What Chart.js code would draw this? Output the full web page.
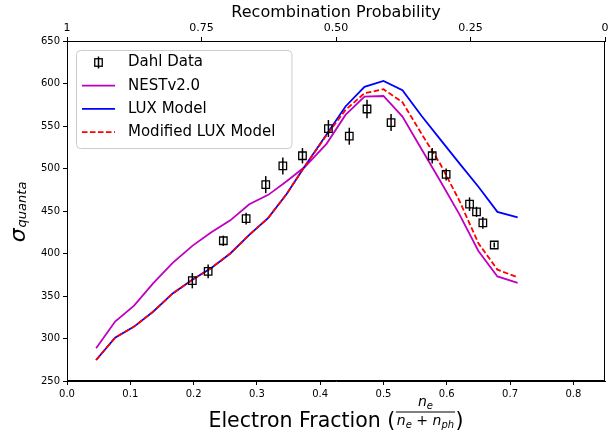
<!DOCTYPE html>
<html>
<head>
<meta charset="utf-8">
<script src="https://cdn.jsdelivr.net/npm/chart.js@4.4.1/dist/chart.umd.min.js"></script>
<style>
  html, body { margin: 0; padding: 0; background: #fff; }
  #wrap { width: 608px; height: 441px; position: relative; }
</style>
</head>
<body>
<div id="wrap"><canvas id="sigma-chart"></canvas></div>
<script>
// Dahl measurements (electron fraction, sigma, error)
const dahlFraction = [0.198, 0.223, 0.247, 0.283, 0.314, 0.341, 0.372, 0.413, 0.446, 0.474, 0.512, 0.577, 0.599, 0.636, 0.647, 0.657, 0.675];
const dahlSigma = [368, 379, 415, 441, 481, 503, 515, 547, 538, 570, 554, 515, 493, 458, 449, 436, 410];
const dahlErr = [9, 8, 6, 7, 10, 10, 9, 10, 10, 11, 10, 9, 7, 8, 6, 7, 3];

// model curves, all on the same electron fraction grid
const modelFraction = [0.046, 0.076, 0.106, 0.136, 0.167, 0.198, 0.228, 0.258, 0.288, 0.318, 0.347, 0.376, 0.41, 0.44, 0.47, 0.50, 0.53, 0.56, 0.59, 0.62, 0.65, 0.68, 0.712];
const nestSigma = [288.5, 320, 338.6, 364.9, 389, 409, 425, 439, 458, 469, 485, 502, 529, 563, 584.5, 585.3, 561, 523, 485, 446, 403, 373, 365.5];
const luxSigma = [274.7, 301, 314, 331.5, 353, 369, 383, 400, 422, 442, 470, 503, 540, 573, 596, 603, 592, 562, 534, 506, 478.5, 449, 442.5];
const modLuxSigma = [274.7, 301, 314, 331.5, 353, 369, 383, 400, 422, 442, 470, 503, 539, 569, 588.5, 593.3, 578, 541, 505, 462, 412, 381, 372];

// top axis
const recombTicks = [1, 0.75, 0.5, 0.25, 0];
const recombLabels = ['1', '0.75', '0.50', '0.25', '0'];

const FONT = "'DejaVu Sans', sans-serif";
Chart.defaults.font.family = FONT;
Chart.defaults.color = '#000';

const toPoints = (xs, ys) => xs.map((v, i) => ({ x: v, y: ys[i] }));

const errorBars = {
    id: 'errorBars',
    beforeDatasetDraw(chart, args) {
        if (args.index !== 0) return;
        const { ctx, scales: { x, y } } = chart;
        ctx.save();
        ctx.strokeStyle = '#000';
        ctx.lineWidth = 1.5;
        dahlFraction.forEach((f, i) => {
            const px = x.getPixelForValue(f);
            ctx.beginPath();
            ctx.moveTo(px, y.getPixelForValue(dahlSigma[i] - dahlErr[i]));
            ctx.lineTo(px, y.getPixelForValue(dahlSigma[i] + dahlErr[i]));
            ctx.stroke();
        });
        ctx.restore();
    }
};

// frame, axis titles with math text, and the boxed legend
const decorations = {
    id: 'decorations',
    afterDraw(chart) {
        const { ctx, chartArea: a } = chart;
        ctx.save();
        ctx.strokeStyle = '#000';
        ctx.lineWidth = 1;
        ctx.strokeRect(a.left + 0.5, a.top + 0.5, a.right - a.left - 1, a.bottom - a.top - 1);

        // x title: Electron Fraction (n_e / (n_e + n_ph))
        ctx.fillStyle = '#000';
        ctx.textBaseline = 'alphabetic';
        ctx.textAlign = 'left';
        const big = `20.5px ${FONT}`, mi = `italic 14px ${FONT}`, mr = `14px ${FONT}`, sub = `italic 10px ${FONT}`;
        const w = (t, f) => { ctx.font = f; return ctx.measureText(t).width; };
        const head = 'Electron Fraction (';
        const headW = w(head, big);
        const nW = w('n', mi);
        const numW = nW + w('e', sub);
        const denParts = [['n', mi, 0], ['e', sub, 2.5], [' + ', mr, 0], ['n', mi, 0], ['ph', sub, 2.5]];
        const denSizes = denParts.map(p => w(p[0], p[1]));
        const denW = denSizes.reduce((s, v) => s + v, 0);
        const fracW = Math.max(numW, denW) + 3;
        const total = headW + fracW + w(')', big);
        let cx = (a.left + a.right) / 2 - total / 2;
        const base = a.bottom + 46;
        ctx.font = big; ctx.fillText(head, cx, base);
        cx += headW;
        const bar = base - 15;
        ctx.fillRect(cx + 0.5, bar - 0.5, fracW - 1, 1);
        const nx = cx + (fracW - numW) / 2;
        ctx.font = mi; ctx.fillText('n', nx, bar - 6);
        ctx.font = sub; ctx.fillText('e', nx + nW, bar - 3.5);
        let dx = cx + (fracW - denW) / 2;
        denParts.forEach(([t, f, off], i) => { ctx.font = f; ctx.fillText(t, dx, bar + 13 + off); dx += denSizes[i]; });
        ctx.font = big; ctx.fillText(')', cx + fracW, base);

        // y title: sigma_quanta
        const sig = `italic 22px ${FONT}`, q = `italic 13px ${FONT}`;
        const sigW = w('σ', sig);
        const yw = sigW + 1 + w('quanta', q);
        ctx.translate(25, (a.top + a.bottom) / 2 + 1 + yw / 2);
        ctx.rotate(-Math.PI / 2);
        ctx.font = sig; ctx.fillText('σ', 0, 0);
        ctx.font = q; ctx.fillText('quanta', sigW + 1, 1);
        ctx.setTransform(1, 0, 0, 1, 0, 0);
        const dpr = chart.currentDevicePixelRatio || 1;
        ctx.scale(dpr, dpr);

        // legend
        const labels = ['Dahl Data', 'NESTv2.0', 'LUX Model', 'Modified LUX Model'];
        const lf = `15px ${FONT}`;
        const lx = a.left + 9, ly = a.top + 9;
        const tx = lx + 52;
        const lw = Math.max(...labels.map(t => w(t, lf))) + (tx - lx) + 16;
        const lh = 98;
        ctx.beginPath();
        ctx.roundRect(lx + 0.5, ly + 0.5, lw, lh, 4);
        ctx.fillStyle = 'rgba(255,255,255,0.8)';
        ctx.fill();
        ctx.strokeStyle = '#cccccc';
        ctx.stroke();
        const rowY = i => ly + 12.5 + i * 23.2;
        ctx.font = lf;
        ctx.textBaseline = 'middle';
        ctx.fillStyle = '#000';
        labels.forEach((t, i) => ctx.fillText(t, tx, rowY(i)));
        // Dahl sample
        const mx = lx + 22.5, my = rowY(0);
        ctx.strokeStyle = '#000';
        ctx.lineWidth = 1.5;
        ctx.beginPath(); ctx.moveTo(mx, my - 6); ctx.lineTo(mx, my + 6); ctx.stroke();
        ctx.lineWidth = 1.3;
        ctx.strokeRect(mx - 3.75, my - 3.75, 7.5, 7.5);
        // line samples
        const ds = chart.data.datasets;
        [1, 2, 3].forEach(k => {
            ctx.strokeStyle = ds[k].borderColor;
            ctx.lineWidth = ds[k].borderWidth;
            ctx.setLineDash(ds[k].borderDash || []);
            ctx.beginPath();
            ctx.moveTo(lx + 6, rowY(k));
            ctx.lineTo(lx + 39, rowY(k));
            ctx.stroke();
        });
        ctx.restore();
    }
};

new Chart(document.getElementById('sigma-chart'), {
    type: 'scatter',
    data: {
        datasets: [
            {
                label: 'Dahl Data',
                data: toPoints(dahlFraction, dahlSigma),
                pointStyle: 'rect',
                pointRadius: 5.3,
                pointBorderWidth: 1.3,
                borderColor: '#000',
                backgroundColor: 'rgba(0,0,0,0)',
                showLine: false,
                order: 0
            },
            {
                label: 'NESTv2.0',
                data: toPoints(modelFraction, nestSigma),
                showLine: true,
                borderColor: '#bf00bf',
                borderWidth: 1.8,
                pointRadius: 0,
                order: 3
            },
            {
                label: 'LUX Model',
                data: toPoints(modelFraction, luxSigma),
                showLine: true,
                borderColor: '#0000ff',
                borderWidth: 1.8,
                pointRadius: 0,
                order: 2
            },
            {
                label: 'Modified LUX Model',
                data: toPoints(modelFraction, modLuxSigma),
                showLine: true,
                borderColor: '#ff0000',
                borderWidth: 1.8,
                borderDash: [5.5, 2.5],
                pointRadius: 0,
                order: 1
            }
        ]
    },
    options: {
        responsive: true,
        maintainAspectRatio: false,
        animation: false,
        layout: { autoPadding: false, padding: { left: 0, right: 3, top: 0, bottom: 0 } },
        plugins: {
            legend: { display: false },
            tooltip: { enabled: false }
        },
        scales: {
            x: {
                type: 'linear',
                position: 'bottom',
                min: 0,
                max: 0.85,
                ticks: {
                    stepSize: 0.1,
                    includeBounds: false,
                    autoSkip: false,
                    maxRotation: 0,
                    padding: 3,
                    font: { size: 10 },
                    callback: v => v.toFixed(1)
                },
                grid: { drawOnChartArea: false, tickLength: 4, color: '#000' },
                border: { color: '#000' },
                afterFit: s => { s.height = 60; s.paddingLeft = 0; s.paddingRight = 0; }
            },
            x2: {
                type: 'linear',
                position: 'top',
                min: 0,
                max: 1,
                reverse: true,
                afterBuildTicks: s => { s.ticks = recombTicks.map(v => ({ value: v })); },
                ticks: {
                    autoSkip: false,
                    maxRotation: 0,
                    padding: 2,
                    font: { size: 11 },
                    callback: (v, i) => recombLabels[i]
                },
                title: {
                    display: true,
                    text: 'Recombination Probability',
                    font: { size: 16 },
                    padding: { top: 3, bottom: 0 }
                },
                grid: { drawOnChartArea: false, tickLength: 4, color: '#000' },
                border: { color: '#000' },
                afterFit: s => { s.height = 41; s.paddingLeft = 0; s.paddingRight = 0; }
            },
            y: {
                type: 'linear',
                min: 250,
                max: 650,
                ticks: { stepSize: 50, padding: 3, font: { size: 10 } },
                grid: { drawOnChartArea: false, tickLength: 4, color: '#000' },
                border: { color: '#000' },
                afterFit: s => { s.width = 67; s.paddingTop = 0; s.paddingBottom = 0; }
            }
        }
    },
    plugins: [errorBars, decorations]
});
</script>
</body>
</html>
